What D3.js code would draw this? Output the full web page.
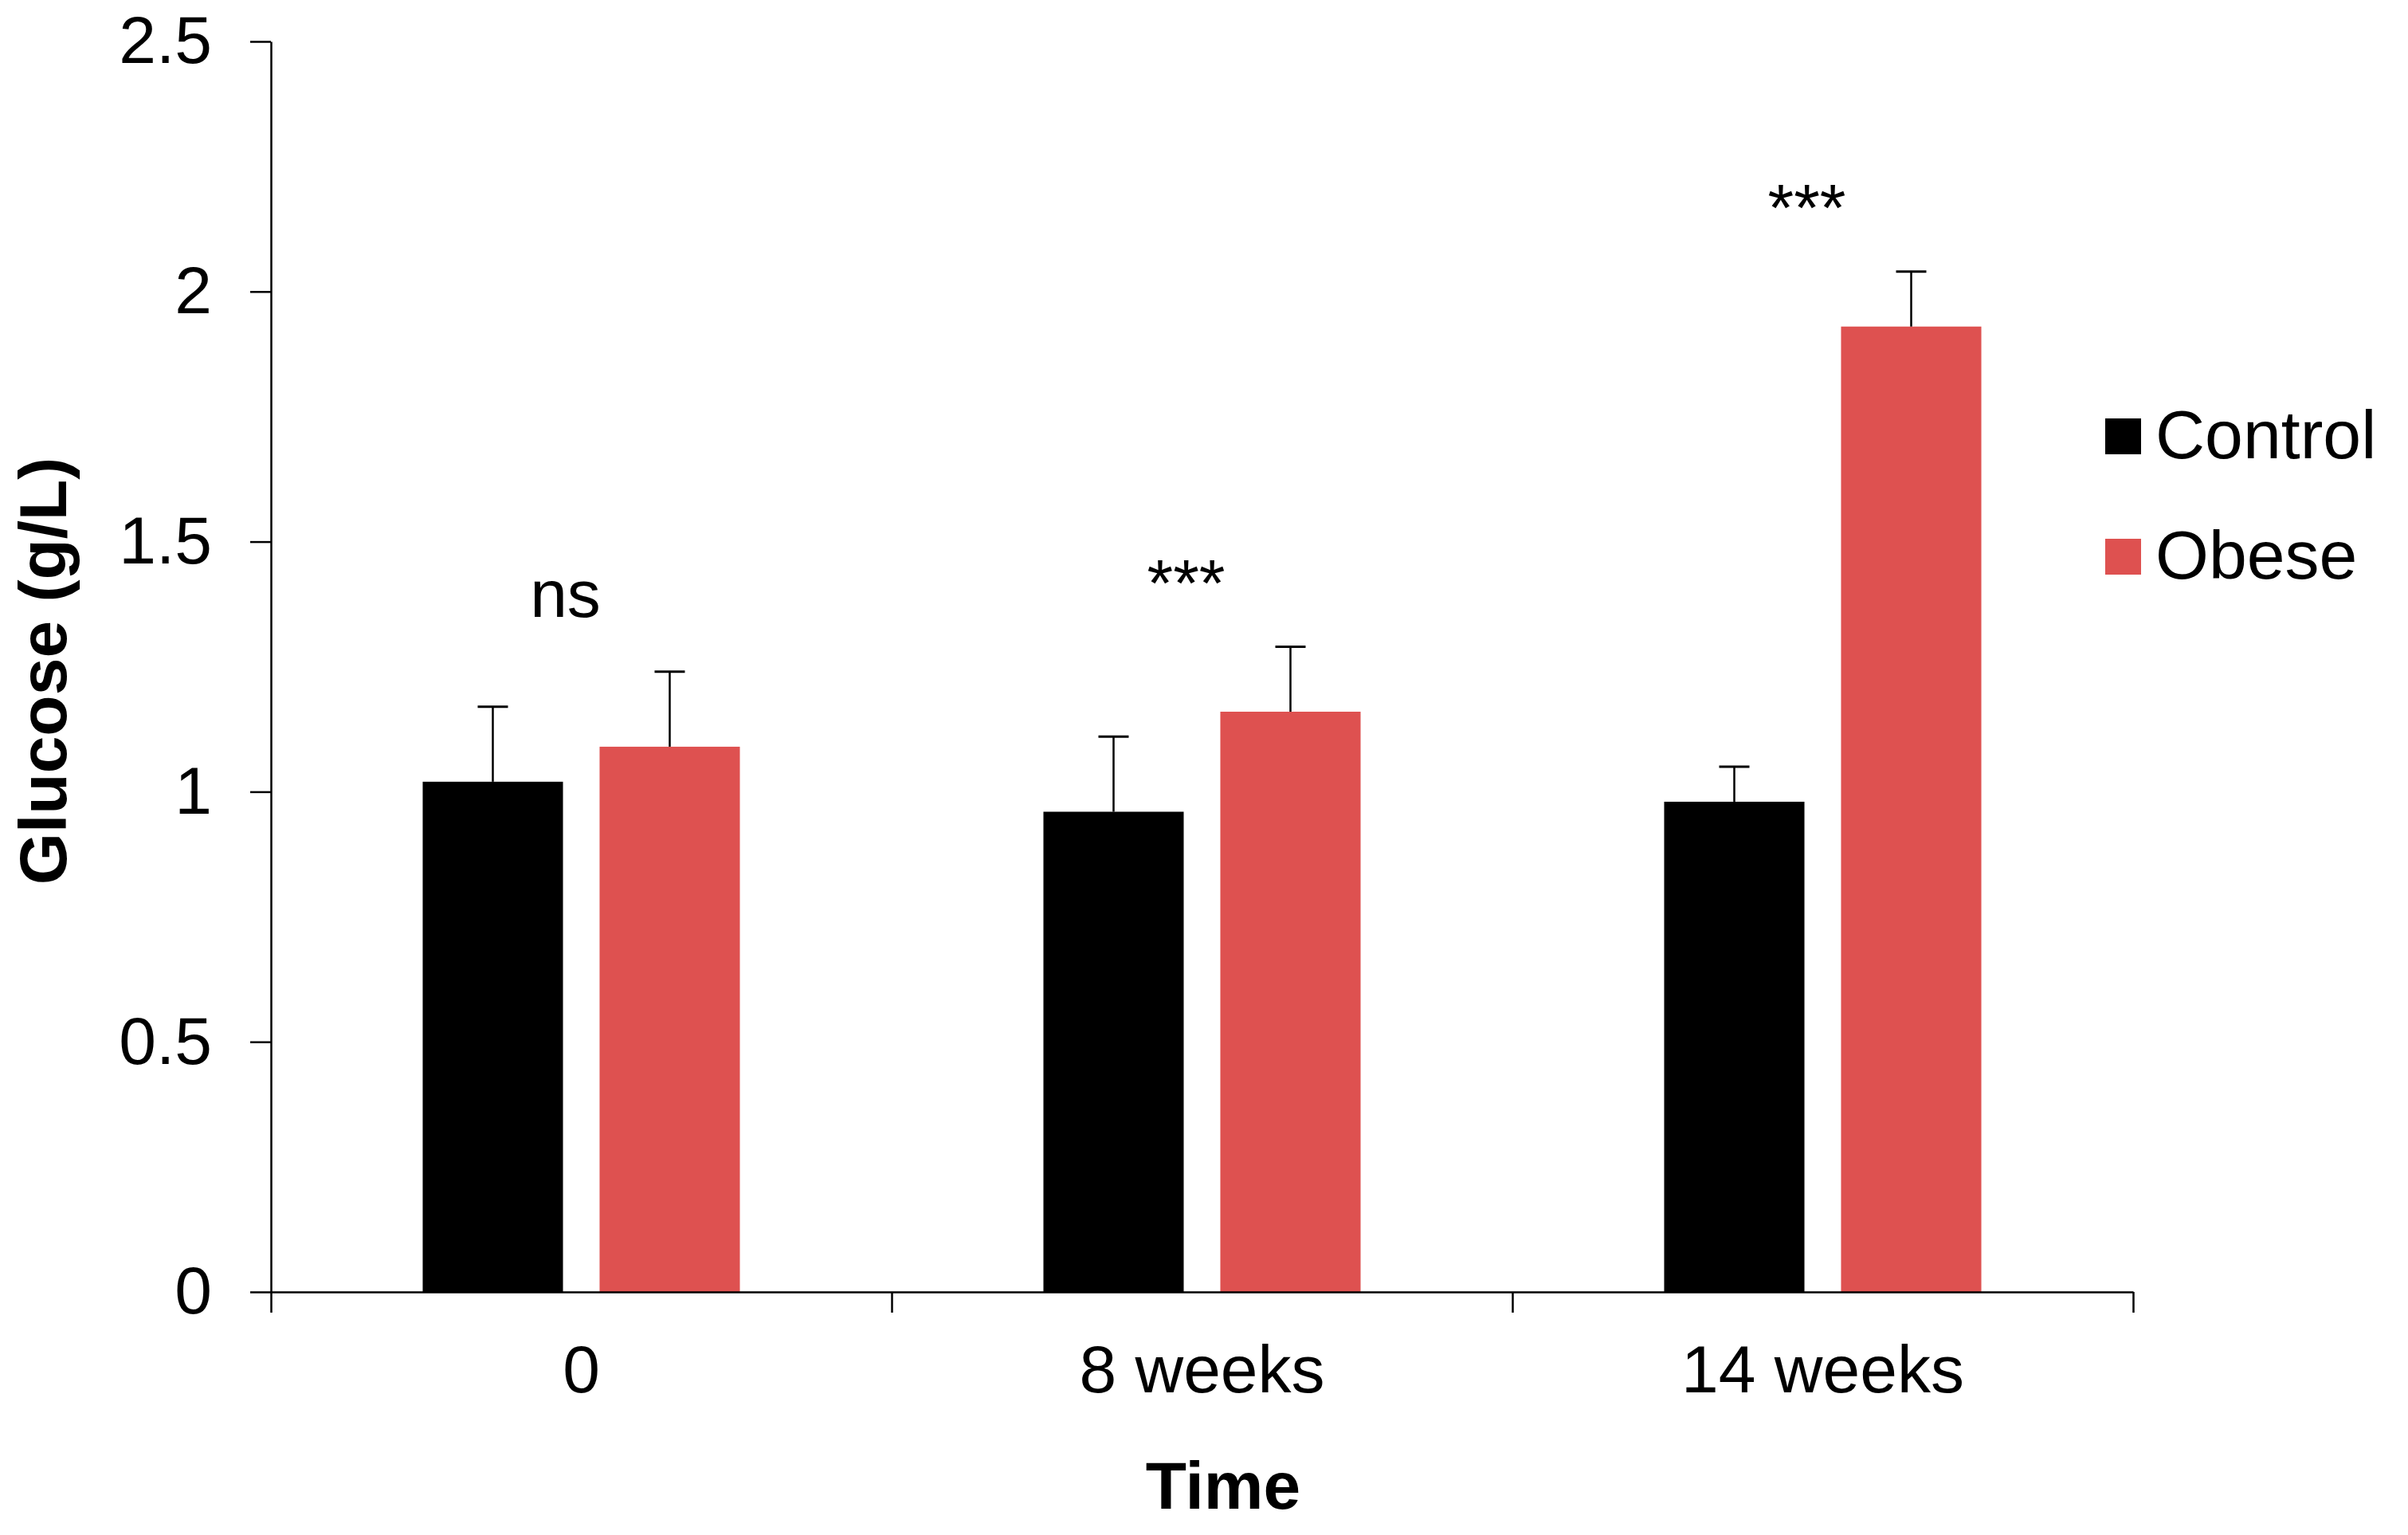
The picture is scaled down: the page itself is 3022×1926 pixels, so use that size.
<!DOCTYPE html>
<html>
<head>
<meta charset="utf-8">
<script src="https://cdn.jsdelivr.net/npm/d3@7"></script>
<style>
  body { margin: 0; background: #ffffff; }
  svg { display: block; font-family: "Liberation Sans", Arial, sans-serif; }
</style>
</head>
<body>
<svg id="chart"></svg>
<script>

var categories = ['0', '8 weeks', '14 weeks'];
var series = ['Control', 'Obese'];
var control = [1.02, 0.96, 0.98];
var obese = [1.09, 1.16, 1.93];
var controlErr = [0.15, 0.15, 0.07];
var obeseErr = [0.15, 0.13, 0.11];
var yTicks = [0, 0.5, 1, 1.5, 2, 2.5];
var marks = ['ns', '***', '***'];
var markY = [1.35, 1.37, 2.12];

var width = 3022,
	height = 1926,
	plotLeft = 340,
	plotRight = 2677,
	plotTop = 52,
	plotBottom = 1621;

var colors = { Control: '#000000', Obese: '#de5150' };

var svg = d3.select('#chart')
	.attr('width', width)
	.attr('height', height)
	.style('background', '#ffffff');

var x = d3.scaleBand().domain(categories).range([plotLeft, plotRight]).padding(0);
var xInner = d3.scaleBand().domain(series).range([0, x.bandwidth()])
	.paddingInner(0.207).paddingOuter(0.858);
var y = d3.scaleLinear().domain([0, 2.5]).range([plotBottom, plotTop]);

// rows for bars
var rows = [];
categories.forEach(function (c, i){
	rows.push({ cat: c, s: 'Control', v: control[i], e: controlErr[i] });
	rows.push({ cat: c, s: 'Obese', v: obese[i], e: obeseErr[i] });
});

svg.selectAll('rect.bar').data(rows)
	.enter().append('rect')
		.attr('class', 'bar')
		.attr('x', function (d){ return x(d.cat) + xInner(d.s); })
		.attr('y', function (d){ return y(d.v); })
		.attr('width', xInner.bandwidth())
		.attr('height', function (d){ return y(0) - y(d.v); })
		.style('fill', function (d){ return colors[d.s]; });

// error bars (upper only)
var err = svg.selectAll('g.err').data(rows)
	.enter().append('g')
		.attr('class', 'err')
		.attr('transform', function (d){
			return 'translate(' + (x(d.cat) + xInner(d.s) + xInner.bandwidth() / 2) + ',0)';
		});
err.append('line')
	.attr('x1', 0).attr('x2', 0)
	.attr('y1', function (d){ return y(d.v); })
	.attr('y2', function (d){ return y(d.v + d.e); })
	.style('stroke', '#000').style('stroke-width', 2.5);
err.append('line')
	.attr('x1', -19).attr('x2', 19)
	.attr('y1', function (d){ return y(d.v + d.e); })
	.attr('y2', function (d){ return y(d.v + d.e); })
	.style('stroke', '#000').style('stroke-width', 3);

// y axis
var yAxis = svg.append('g')
	.attr('transform', 'translate(' + plotLeft + ',0)')
	.call(d3.axisLeft(y).tickValues(yTicks).tickFormat(d3.format('')).tickSize(26).tickSizeOuter(0).tickPadding(48));
yAxis.selectAll('text').style('font-size', '84px').style('fill', '#000');

// x axis: ticks on band edges, labels on centers
var xEdge = d3.scaleLinear().domain([0, categories.length]).range([plotLeft, plotRight]);
var xAxis = svg.append('g')
	.attr('transform', 'translate(0,' + plotBottom + ')')
	.call(d3.axisBottom(xEdge).tickValues(d3.range(categories.length + 1)).tickFormat('').tickSize(26).tickSizeOuter(0));
var xLabels = svg.append('g')
	.attr('transform', 'translate(0,' + plotBottom + ')')
	.call(d3.axisBottom(x).tickSize(0).tickPadding(66));
xLabels.select('.domain').remove();
xLabels.selectAll('text').style('font-size', '84px').style('fill', '#000');

svg.selectAll('.domain, .tick line').style('stroke', '#000').style('stroke-width', 2.5);

// significance marks
svg.selectAll('text.mark').data(marks)
	.enter().append('text')
		.attr('class', 'mark')
		.attr('x', function (d, i){ return x(categories[i]) + x.bandwidth() / 2 - 20; })
		.attr('y', function (d, i){ return y(markY[i]); })
		.attr('text-anchor', 'middle')
		.style('font-size', '84px')
		.text(function (d){ return d; });

// axis titles
svg.append('text')
	.attr('transform', 'translate(83,842) rotate(-90)')
	.attr('text-anchor', 'middle')
	.style('font-size', '84px').style('font-weight', 'bold')
	.text('Glucose (g/L)');

svg.append('text')
	.attr('x', 1535).attr('y', 1893)
	.attr('text-anchor', 'middle')
	.style('font-size', '84px').style('font-weight', 'bold')
	.text('Time');

// legend
var legend = svg.selectAll('g.legend').data(series)
	.enter().append('g')
		.attr('class', 'legend')
		.attr('transform', function (d, i){ return 'translate(2642,' + (525 + i * 151) + ')'; });
legend.append('rect')
	.attr('width', 45).attr('height', 45)
	.style('fill', function (d){ return colors[d]; });
legend.append('text')
	.attr('x', 63).attr('y', 50)
	.style('font-size', '86px')
	.text(function (d){ return d; });

</script>
</body>
</html>
